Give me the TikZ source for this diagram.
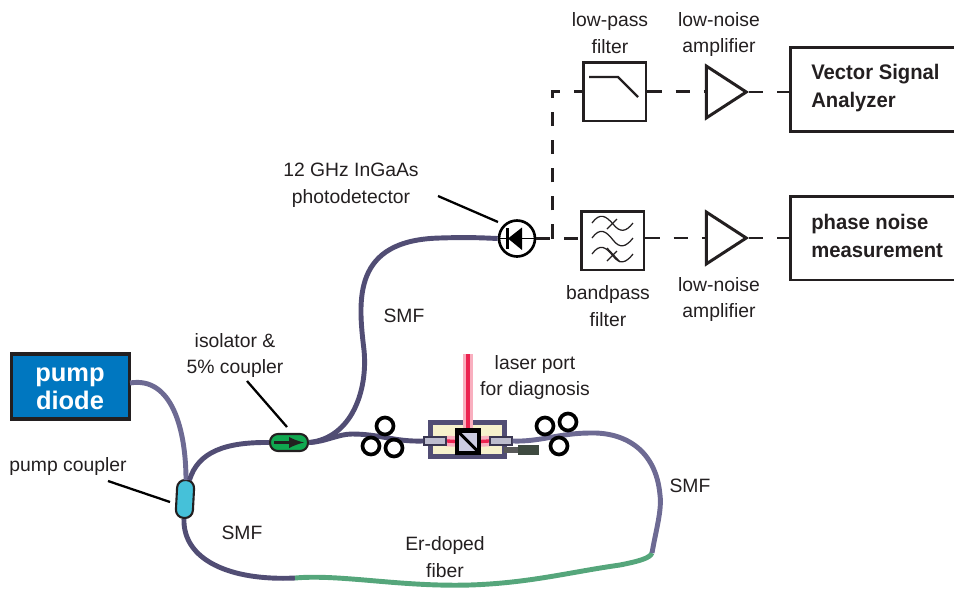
\documentclass[tikz,border=0pt]{standalone}
\usepackage{fontspec}
\setmainfont{Liberation Sans}
\usetikzlibrary{calc, positioning, shapes.geometric}
\definecolor{fiberdark}{HTML}{514D74}
\definecolor{fiberpump}{HTML}{6D6A93}
\definecolor{fibergain}{HTML}{55A67B}
\definecolor{diodeblue}{HTML}{0077C0}
\definecolor{couplercyan}{HTML}{45C1D9}
\definecolor{isolgreen}{HTML}{10A850}
\definecolor{cream}{HTML}{F6F1CC}
\definecolor{cubefill}{HTML}{CCCCE2}
\definecolor{beamred}{HTML}{EC2350}
\definecolor{beampink}{HTML}{F9AFBF}
\definecolor{dumpgray}{HTML}{3E4A40}
\definecolor{inktext}{HTML}{231F20}
\tikzset{
  fiber/.style={line width=2.8pt, draw=fiberdark},
  pumpfiber/.style={line width=2.8pt, draw=fiberpump},
  gainfiber/.style={line width=2.8pt, draw=fibergain},
  signal/.style={line width=1.6pt, draw=inktext, dash pattern=on 8pt off 8pt},
  leader/.style={line width=1.3pt, draw=black},
  label/.style={text=inktext, align=center, font=\fontsize{11}{15.3}\selectfont},
  blockbox/.style={draw=inktext, line width=1.7pt, fill=white, minimum width=1.26cm, minimum height=1.18cm, inner sep=0pt},
  instrument/.style={draw=inktext, line width=1.7pt, minimum width=3.42cm, minimum height=1.68cm, anchor=west},
  instrtext/.style={text=inktext, align=left, anchor=west, inner sep=0pt, xscale=0.96, transform shape, font=\bfseries\fontsize{12}{16.4}\selectfont},
  amp/.style={isosceles triangle, isosceles triangle apex angle=66, draw=inktext, line width=1.7pt, fill=white, minimum height=0.8cm, inner sep=0pt, anchor=apex},
  paddle/.style={circle, draw=black, line width=2.1pt, minimum size=0.34cm, inner sep=0pt},
  collimator/.style={draw=fiberdark!70!black, line width=0.8pt, fill=cubefill!80!gray, minimum width=0.44cm, minimum height=0.16cm, inner sep=0pt},
  beam/.style={line width=1.9pt, draw=beamred, preaction={draw=beampink, line width=6pt}},
  wave/.style={line width=0.7pt, draw=inktext}
}
\begin{document}
\begin{tikzpicture}[x=0.02cm, y=-0.02cm]
  \useasboundingbox (0,0) rectangle (954,589);
  % Pump and couplers
  \node (pump) [draw=inktext, line width=1.9pt, fill=diodeblue, minimum width=2.36cm, minimum height=1.3cm, inner sep=0pt] at (70.5,386.5) {};
  \node (pumptext) [text=white, align=center, font=\bfseries\fontsize{14.5}{15.9}\selectfont] at (70,389) {pump\\diode};
  \node (pumpcoupler) [draw=inktext, line width=1.2pt, fill=couplercyan, rounded corners=0.16cm, rotate=-3,
                minimum width=0.34cm, minimum height=0.76cm, inner sep=0pt] at (185,499) {};
  \node (isolator) [draw=inktext, line width=1.2pt, fill=isolgreen, rounded corners=0.16cm,
                minimum width=0.76cm, minimum height=0.34cm, inner sep=0pt] at (289,442.5) {};
  \draw[line width=1.9pt, draw=inktext, -latex] (isolator.center) ++(-15,0) -- ++(30,0);
  \coordinate (pumpout) at (130,383);
  \coordinate (couplerleft) at (186,480);
  \coordinate (couplerright) at (189.5,480);
  \coordinate (gainstart) at (295,578);
  \coordinate (gainend) at (652,553);
  % Laser port
  \node (bench) [draw=fiberdark, line width=2.6pt, fill=cream, minimum width=1.48cm, minimum height=0.68cm, inner sep=0pt] at (467.5,439.5) {};
  \node (cube) [draw=black, line width=1.7pt, fill=cubefill, minimum size=0.42cm, inner sep=0pt] at (468,441.5) {};
  \coordinate (beamtop) at (468,354);
  \node (colleft) [collimator] at (435,441) {};
  \node (colright) [collimator] at (501,441) {};
  \draw[beam] (colleft.east) -- (cube.west);
  \draw[beam] (cube.east) -- (colright.west);
  \draw[beam] (beamtop) -- (cube.north);
  \draw[draw=black, line width=1.7pt] (cube.north west) -- (cube.south east);
  \draw[draw=black, line width=1.7pt] (cube.north west) rectangle (cube.south east);
  \node (collleft) [collimator] at (435,441) {};
  \node (collright) [collimator] at (501,441) {};
  \node (stub) [fill=gray!70!black, minimum width=0.3cm, minimum height=0.11cm, inner sep=0pt] at (511,450) {};
  \node (dump) [fill=dumpgray, minimum width=0.42cm, minimum height=0.2cm, inner sep=0pt] at (528.5,450) {};
  % Photodetector
  \node (pd) [circle, draw=black, line width=1.5pt, minimum size=0.72cm, inner sep=0pt] at (517,238.5) {};
  \draw[line width=1pt, draw=black] (pd.west) -- (pd.east);
  \fill[black] (508,238.5) -- (522,227.5) -- (522,250) -- cycle;
  \draw[line width=1.5pt, draw=black] (507.5,228) -- (507.5,249);
  % Fibers
  \draw[pumpfiber] (pumpout) .. controls (172,376) and (186,430) .. (couplerleft);
  \draw[fiber] (couplerright) .. controls (198,452) and (225,442) .. (isolator.west);
  \draw[fiber] (pumpcoupler.south) .. controls (183,560) and (230,581) .. (gainstart);
  \draw[gainfiber] (gainstart) .. controls (340,574) and (400,587) .. (470,585) .. controls (530,583) and (570,572) .. (620,565) .. controls (640,561) and (650,558) .. (gainend);
  \draw[pumpfiber] (gainend) .. controls (656,530) and (662,510) .. (660,495) .. controls (656,450) and (625,432) .. (590,433) .. controls (560,433) and (540,442) .. (collright.east);
  \draw[fiber] (isolator.east) .. controls (325,442) and (338,434) .. (352,434) .. controls (380,434) and (395,442) .. (collleft.west);
  \draw[fiber] (isolator.east) .. controls (352,438) and (368,390) .. (364,350) .. controls (358,300) and (352,240) .. (440,238) .. controls (470,237) and (485,238) .. (pd.west);
  % Polarization paddles
  \node (padla) [paddle] at (385,426) {};
  \node (padlb) [paddle] at (371,446) {};
  \node (padlc) [paddle] at (394,448) {};
  \node (padra) [paddle] at (545,426) {};
  \node (padrb) [paddle] at (568,422) {};
  \node (padrc) [paddle] at (559,446) {};
  % Filters
  \node (lowpass) [blockbox] at (614.5,91.5) {};
  \draw[line width=1.3pt, draw=inktext] (589,77) -- (618,77) -- (638,97);
  \node (bandpass) [blockbox] at (612.5,240.5) {};
  \draw[wave] (592,223) .. controls (600,212) and (606,216) .. (613,224) .. controls (620,233) and (626,232) .. (633,223);
  \draw[wave] (592,238) .. controls (600,227) and (606,231) .. (613,240) .. controls (620,249) and (626,247) .. (633,238);
  \draw[wave] (592,254) .. controls (600,243) and (606,247) .. (613,256) .. controls (620,265) and (626,263) .. (633,254);
  \draw[wave] (607,229) -- (617,219);
  \draw[wave] (607,248) -- (620,262);
  \draw[wave] (607,261) -- (617,251);
  % Amplifiers
  \node (ampa) [amp] at (749,92) {};
  \node (ampb) [amp] at (749,238) {};
  % Instruments
  \node (vsa) [instrument] at (789,89.5) {};
  \node (vsatext) [instrtext] at (811,88) {Vector Signal\\Analyzer};
  \node (pnm) [instrument] at (789,238) {};
  \node (pnmtext) [instrtext] at (811,236) {phase noise\\measurement};
  % Signal paths
  \coordinate (branch) at (552.5,238.5);
  \draw[signal] (pd.east) -- (bandpass.west |- pd.east);
  \draw[signal] (branch) |- (lowpass.west);
  \draw[signal] (lowpass.east) -- (ampa.lower side |- lowpass.east);
  \draw[signal] (ampa.apex) -- (vsa.west |- ampa.apex);
  \draw[signal] (bandpass.east |- ampb.apex) -- (ampb.lower side |- ampb.apex);
  \draw[signal] (ampb.apex) -- (pnm.west);
  % Labels
  \node (lplabel) [label] at (610,33.5) {low-pass\\filter};
  \node (ampalabel) [label] at (719,34.5) {low-noise\\amplifier};
  \node (pdlabel) [label] at (351,185.5) {12 GHz InGaAs\\photodetector};
  \node (bplabel) [label] at (608,306) {bandpass\\filter};
  \node (ampblabel) [label] at (719,299.5) {low-noise\\amplifier};
  \node (isollabel) [label] at (235,355.5) {isolator \&\\5\% coupler};
  \node (portlabel) [label] at (535,377.5) {laser port\\for diagnosis};
  \node (couplerlabel) [label] at (68,466) {pump coupler};
  \node (smfa) [label] at (404,316) {SMF};
  \node (smfb) [label] at (242,533) {SMF};
  \node (smfc) [label] at (690,486) {SMF};
  \node (gainlabel) [label] at (445,557.5) {Er-doped\\fiber};
  % Leader lines
  \coordinate (pdtail) at (438,196);
  \coordinate (pdtip) at (498,222);
  \coordinate (isoltail) at (247,381);
  \coordinate (isoltip) at (287,427);
  \coordinate (coupltail) at (108,481);
  \coordinate (coupltip) at (170,502);
  \draw[leader] (pdtail) -- (pdtip);
  \draw[leader] (isoltail) -- (isoltip);
  \draw[leader] (coupltail) -- (coupltip);
\end{tikzpicture}
\end{document}
